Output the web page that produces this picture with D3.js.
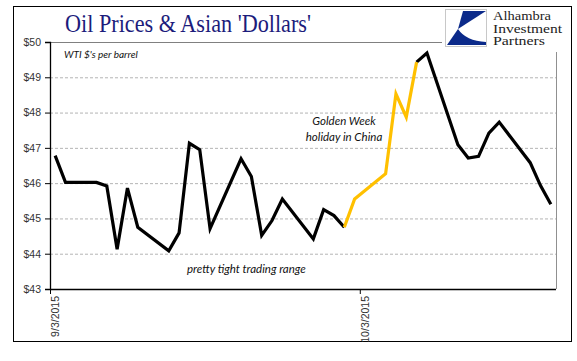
<!DOCTYPE html>
<html>
<head>
<meta charset="utf-8">
<script src="https://cdn.jsdelivr.net/npm/d3@7"></script>
<style>
  html, body { margin: 0; padding: 0; background: #fff; }
  svg { display: block; }
</style>
</head>
<body>
<div id="chart"></div>
<script>
// WTI daily closes, Sep 3 - Oct 21 2015
const dates = [
  '2015-09-03', '2015-09-04', '2015-09-07', '2015-09-08', '2015-09-09', '2015-09-10', '2015-09-11',
  '2015-09-14', '2015-09-15', '2015-09-16', '2015-09-17', '2015-09-18',
  '2015-09-21', '2015-09-22', '2015-09-23', '2015-09-24', '2015-09-25',
  '2015-09-28', '2015-09-29', '2015-09-30', '2015-10-01', '2015-10-02',
  '2015-10-05', '2015-10-06', '2015-10-07', '2015-10-08', '2015-10-09',
  '2015-10-12', '2015-10-13', '2015-10-14', '2015-10-15', '2015-10-16',
  '2015-10-19', '2015-10-20', '2015-10-21'
];
const prices = [
  46.78, 46.02, 46.02, 45.92, 44.13, 45.86, 44.75,
  44.08, 44.59, 47.13, 46.95, 44.71,
  46.69, 46.19, 44.52, 44.94, 45.55,
  44.42, 45.25, 45.08, 44.75, 45.55,
  46.27, 48.53, 47.87, 49.43, 49.69,
  47.09, 46.71, 46.76, 47.42, 47.73,
  46.58, 45.93, 45.40
];
// Golden Week stretch drawn in gold
const holidayRange = ['2015-10-01', '2015-10-08'];

const yTicks = [43, 44, 45, 46, 47, 48, 49, 50];
const xTickDates = ['2015-09-03', '2015-10-03'];
const xTickLabels = ['9/3/2015', '10/3/2015'];
const xDomain = ['2015-09-03', '2015-10-22'];

const W = 577, H = 361;
const margin = { top: 42, right: 21, bottom: 72, left: 50 };
const width = W - margin.left - margin.right;
const height = H - margin.top - margin.bottom;

const parse = d3.timeParse('%Y-%m-%d');
const rows = dates.map((d, i) => ({ date: parse(d), value: prices[i] }));
const hStart = parse(holidayRange[0]), hEnd = parse(holidayRange[1]);

const before = rows.filter(r => r.date <= hStart);
const holiday = rows.filter(r => r.date >= hStart && r.date <= hEnd);
const after = rows.filter(r => r.date >= hEnd);

const svg = d3.select('#chart').append('svg')
  .attr('width', W)
  .attr('height', H);

// outer frame
svg.append('rect')
  .attr('x', 13.5).attr('y', 6.5)
  .attr('width', 558).attr('height', 335)
  .attr('fill', 'none')
  .attr('stroke', '#000')
  .attr('stroke-width', 1);

const g = svg.append('g')
  .attr('transform', `translate(${margin.left},${margin.top})`);

const x = d3.scaleTime()
  .domain(xDomain.map(parse))
  .range([0, width]);

const y = d3.scaleLinear()
  .domain([43, 50])
  .range([height, 0]);

// dashed grid
g.append('g')
  .call(d3.axisLeft(y).tickValues(yTicks.slice(1, -1)).tickSize(-width).tickFormat(''))
  .call(s => s.select('.domain').remove())
  .call(s => s.selectAll('line')
    .attr('stroke', '#b4b4b4')
    .attr('stroke-dasharray', '3,2'));

// top and right plot borders (top one stops at the logo)
g.append('line')
  .attr('x1', 0).attr('x2', 392)
  .attr('y1', 0.5).attr('y2', 0.5)
  .attr('stroke', '#808080');
g.append('line')
  .attr('x1', width + 0.5).attr('x2', width + 0.5)
  .attr('y1', 10).attr('y2', height)
  .attr('stroke', '#909090');

const axisFont = '"Liberation Sans Narrow", "Liberation Sans", Arial, sans-serif';

// y axis
const yAxis = g.append('g')
  .call(d3.axisLeft(y).tickValues(yTicks).tickSize(5).tickPadding(4).tickFormat(d => '$' + d));
yAxis.select('.domain').attr('stroke', '#000').attr('stroke-width', 1.3);
yAxis.selectAll('line').attr('stroke', '#000');
yAxis.selectAll('text')
  .attr('fill', '#333')
  .style('font-family', axisFont)
  .style('font-size', '10.5px');

// x axis, labels turned to read upwards just right of their tick
const xAxis = g.append('g')
  .attr('transform', `translate(0,${height})`)
  .call(d3.axisBottom(x).tickValues(xTickDates.map(parse)).tickSize(5)
    .tickFormat((d, i) => xTickLabels[i]));
xAxis.select('.domain').attr('stroke', '#000').attr('stroke-width', 1.5)
  .attr('d', `M0,0.5H${width}`);
xAxis.selectAll('line').attr('stroke', '#000');
xAxis.selectAll('text')
  .attr('fill', '#333')
  .attr('x', 0)
  .attr('y', 0)
  .attr('dy', 0)
  .attr('text-anchor', 'end')
  .attr('transform', 'translate(8.5,7) rotate(-90)')
  .style('font-family', axisFont)
  .style('font-size', '10.5px');

// price line, points sit mid-day like a date axis
const line = d3.line()
  .x(d => x(d3.timeHour.offset(d.date, 12)))
  .y(d => y(d.value));

[[before, '#000'], [after, '#000'], [holiday, '#FFC000']].forEach(([data, color]) => {
  g.append('path')
    .datum(data)
    .attr('fill', 'none')
    .attr('stroke', color)
    .attr('stroke-width', 3.2)
    .attr('stroke-linejoin', 'miter')
    .attr('d', line);
});

// notes
const italic = 'Lato, "Open Sans", sans-serif';
g.append('text')
  .attr('x', 14).attr('y', 16)
  .style('font-family', italic).style('font-style', 'italic').style('font-size', '10px')
  .attr('fill', '#111')
  .text("WTI $'s per barrel");

const gw = g.append('text')
  .attr('text-anchor', 'middle')
  .style('font-family', italic).style('font-style', 'italic').style('font-size', '11.5px')
  .attr('fill', '#111');
gw.append('tspan').attr('x', 294).attr('y', 83).text('Golden Week');
gw.append('tspan').attr('x', 294).attr('y', 99).text('holiday in China');

g.append('text')
  .attr('x', 137).attr('y', 231)
  .style('font-family', italic).style('font-style', 'italic').style('font-size', '11.5px')
  .attr('fill', '#111')
  .text('pretty tight trading range');

// title
svg.append('text')
  .attr('x', 65).attr('y', 32)
  .attr('fill', '#1c1c7c')
  .attr('textLength', 246)
  .attr('lengthAdjust', 'spacingAndGlyphs')
  .style('font-family', '"Liberation Serif", "DejaVu Serif", serif')
  .style('font-size', '25px')
  .text("Oil Prices & Asian 'Dollars'");

// logo
const logo = svg.append('g');
logo.append('rect')
  .attr('x', 445.5).attr('y', 9.5)
  .attr('width', 41).attr('height', 37)
  .attr('fill', '#fff')
  .attr('stroke', '#c8c8c8');
logo.append('path')
  .attr('d', 'M463,11 L486,11 L458,29 Z')
  .attr('fill', '#0b2a8a');
logo.append('path')
  .attr('d', 'M458,29 L447,45 L486,45 L486,42 Q466,41 458,29 Z')
  .attr('fill', '#0b2a8a');
const logoText = logo.append('g')
  .style('font-family', '"Liberation Serif", "DejaVu Serif", serif')
  .style('font-size', '12.5px')
  .attr('fill', '#222');
[['Alhambra', 20, 58], ['Investment', 32.5, 69], ['Partners', 45, 52]].forEach(([t, yy, len]) => {
  logoText.append('text')
    .attr('x', 493).attr('y', yy)
    .attr('textLength', len)
    .attr('lengthAdjust', 'spacingAndGlyphs')
    .text(t);
});
</script>
</body>
</html>
